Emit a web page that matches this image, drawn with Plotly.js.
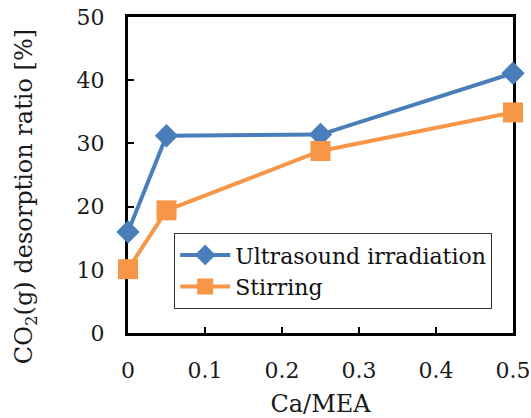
<!DOCTYPE html>
<html><head><meta charset="utf-8">
<script src="https://cdn.plot.ly/plotly-3.0.1.min.js"></script>
<style>html,body{margin:0;padding:0;background:#fff;}</style>
</head><body>
<div id="chart" style="width:531px;height:418px;"></div>
<script>
const caMEA = [0, 0.05, 0.25, 0.5];
const ultrasound = [16.0, 31.2, 31.4, 41.1];
const stirring = [10.1, 19.4, 28.8, 34.9];
const seriesNames = ["Ultrasound irradiation", "Stirring"];
const xTicks = [0, 0.1, 0.2, 0.3, 0.4, 0.5];
const yTicks = [0, 10, 20, 30, 40, 50];
const xTitle = 'Ca/MEA';
const yTitle = 'CO<sub>2</sub>(g) desorption ratio [%]';

const font = "DejaVu Serif";
const traces = [
  {x: caMEA, y: ultrasound, name: seriesNames[0], mode: 'lines+markers', cliponaxis: false,
   line: {color: '#4A7EBB', width: 4}, marker: {symbol: 'diamond', size: 18, color: '#4A7EBB'}},
  {x: caMEA, y: stirring, name: seriesNames[1], mode: 'lines+markers', cliponaxis: false,
   line: {color: '#F79646', width: 4}, marker: {symbol: 'square', size: 20, color: '#F79646'}}
];
const layout = {
  width: 531, height: 418,
  margin: {l: 128, r: 18, t: 17, b: 85},
  paper_bgcolor: '#fff', plot_bgcolor: '#fff',
  font: {family: font, color: '#1a1a1a', size: 22},
  showlegend: true,
  legend: {x: 0.12, y: 0.316, xanchor: 'left', yanchor: 'top',
           bordercolor: '#333', borderwidth: 1, bgcolor: '#fff', itemwidth: 50,
           font: {family: font, size: 22, color: '#111'}, tracegroupgap: 0},
  xaxis: {range: [0, 0.5], tickvals: xTicks, ticktext: xTicks.map(String),
          showgrid: false, zeroline: false, showline: true, linecolor: '#000', linewidth: 3,
          mirror: true, ticks: 'inside', ticklen: 6, tickwidth: 2, tickcolor: '#000',
          ticklabelstandoff: 16, layer: 'below traces',
          title: {text: xTitle, font: {family: font, size: 24}, standoff: 14},
          tickfont: {family: font, size: 22}, automargin: false},
  yaxis: {range: [0, 50], tickvals: yTicks,
          showgrid: false, zeroline: false, showline: true, linecolor: '#000', linewidth: 3,
          mirror: true, ticks: 'inside', ticklen: 6, tickwidth: 2, tickcolor: '#000',
          ticklabelstandoff: 16, layer: 'below traces',
          tickfont: {family: font, size: 22}, automargin: false},
  annotations: [{text: yTitle, xref: 'paper', yref: 'paper', x: -0.2675, y: 0.43,
                 xanchor: 'center', yanchor: 'middle', textangle: -90, showarrow: false,
                 font: {family: font, size: 24, color: '#1a1a1a'}}]
};
Plotly.newPlot('chart', traces, layout, {displayModeBar: false, staticPlot: true});
</script>
</body></html>
